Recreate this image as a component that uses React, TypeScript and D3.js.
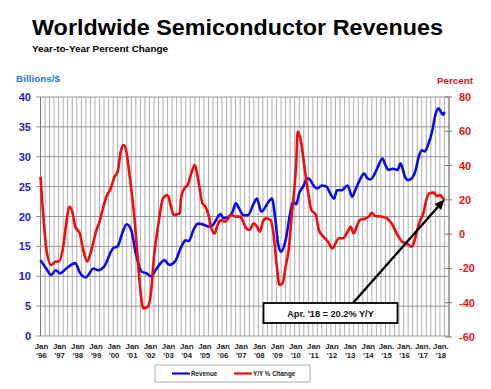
import React from "react";
import * as d3 from "d3";

const W = 491;
const H = 389;

// month index from Jan 1996 (0) for each reading
const revMonths = [0, 4, 7, 10, 13, 17, 23, 26, 30, 35, 38, 42, 48, 51, 54, 57, 60, 63, 67, 70, 73, 76, 82, 85, 89, 93, 96, 98, 101, 104, 108, 111, 114, 116, 119, 121, 124, 127, 129, 132, 134, 137, 141, 143, 146, 148, 150, 153, 155, 157, 159, 162, 165, 167, 169, 171, 174, 176, 178, 181, 183, 186, 189, 192, 194, 196, 199, 203, 206, 208, 211, 214, 216, 218, 221, 223, 226, 228, 230, 233, 236, 238, 239, 241, 243, 245, 248, 250, 252, 254, 256, 259, 261, 263, 264, 266, 267];
const revValues = [12.7, 11.2, 10.2, 11.0, 10.5, 11.3, 12.2, 10.6, 9.8, 11.3, 11.0, 11.6, 14.7, 15.0, 17.2, 18.7, 17.7, 13.8, 10.75, 10.5, 10.0, 11.0, 12.7, 11.9, 12.5, 14.9, 16.0, 15.9, 17.7, 18.8, 18.6, 18.3, 18.6, 19.4, 20.4, 19.7, 19.9, 20.8, 22.2, 21.0, 20.2, 20.2, 22.2, 23.0, 20.8, 21.3, 22.2, 23.0, 20.0, 15.5, 14.1, 16.0, 20.5, 22.5, 22.0, 23.9, 25.2, 26.4, 26.2, 25.0, 24.7, 25.2, 25.0, 23.6, 23.0, 24.4, 24.4, 25.2, 23.3, 24.4, 26.1, 27.2, 26.4, 26.2, 27.2, 28.3, 29.7, 28.6, 27.8, 28.0, 27.8, 28.9, 28.3, 26.6, 26.1, 26.3, 27.8, 30.0, 31.1, 30.9, 31.9, 34.4, 37.0, 38.1, 37.8, 37.0, 37.5];

const yoyMonths = [0, 4, 7, 10, 12, 15, 17, 19, 21, 23, 26, 28, 31, 33, 37, 39, 41, 44, 46, 49, 51, 53, 55, 57, 59, 62, 64, 66, 68, 71, 73, 75, 78, 81, 84, 86, 88, 90, 92, 93, 96, 97, 100, 102, 103, 105, 107, 109, 111, 113, 115, 117, 119, 122, 124, 126, 129, 132, 134, 136, 138, 141, 143, 145, 147, 149, 152, 154, 156, 158, 160, 162, 164, 166, 169, 170, 172, 175, 177, 179, 182, 184, 187, 190, 193, 195, 197, 200, 203, 205, 207, 209, 211, 215, 217, 219, 221, 226, 229, 232, 236, 239, 242, 245, 247, 249, 251, 253, 255, 257, 260, 262, 264, 266, 267];
const yoyValues = [33.5, -9.3, -18, -16, -16, -7.3, 6.3, 16, 13.1, 4.3, 0.4, -8.3, -16, -11.2, 2.4, 7.2, 14.1, 22.8, 25.8, 33.5, 36.4, 48.1, 52, 47.1, 33.5, 10.2, -11.2, -32.6, -43.3, -42.3, -34.5, -13.2, 6.3, 20.9, 22.8, 17, 11.2, 11.5, 12.1, 21.8, 27.7, 28.3, 36.4, 40.3, 37.4, 27.7, 18, 16, 11.2, 3.4, 0.4, 5.3, 8.2, 7.2, 9.2, 11.2, 10.2, 10.2, 7.2, 3.4, 2.4, 6.3, 4.4, 1.4, 7.2, 9.2, 8.2, 0.4, -17, -29.7, -28.7, -19, -9.3, 10.2, 41.3, 59.8, 54.9, 35.5, 23.8, 14.1, 11.2, 2.4, -1.5, -4.4, -8.3, -5.4, -2.4, -2.4, 1.4, 4.3, 0.4, 4.3, 8.2, 9.2, 10.2, 12.5, 10.6, 10.2, 9.2, 6.3, -0.5, -4.4, -5.4, -7.3, -4.4, 2.4, 8.2, 12.1, 19.9, 23.8, 24.2, 22.2, 22.8, 20.9, 20.2];

const yearLabels = ["'96", "'97", "'98", "'99", "'00", "'01", "'02", "'03", "'04", "'05", "'06", "'07", "'08", "'09", "'10", "'11", "'12", "'13", "'14", "'15", "'16", "'17", "'18"];
const monthLabels = ["Jan", "Jan", "Jan", "Jan", "Jan", "Jan", "Jan", "Jan", "Jan", "Jan", "Jan", "Jan", "Jan", "Jan", "Jan", "Jan", "Jan", "Jan", "Jan", "Jan.", "Jan.", "Jan.", "Jan."];
const leftTicks = [0, 5, 10, 15, 20, 25, 30, 35, 40];
const rightTicks = [-60, -40, -20, 0, 20, 40, 60, 80];

const annotationText = "Apr. '18 = 20.2% Y/Y";

const FONT = "'Liberation Sans', Arial, sans-serif";

export default function App() {
  const x = d3.scaleLinear().domain([0, 270]).range([40.5, 449]);
  const yL = d3.scaleLinear().domain([0, 40]).range([336, 97]);
  const yR = d3.scaleLinear().domain([-60, 80]).range([337, 97]);

  const revData = revMonths.map((m, i) => [m, revValues[i]] as [number, number]);
  const yoyData = yoyMonths.map((m, i) => [m, yoyValues[i]] as [number, number]);

  const revLine = d3
    .line<[number, number]>()
    .x((d) => x(d[0]))
    .y((d) => yL(d[1]))
    .curve(d3.curveMonotoneX);
  const yoyLine = d3
    .line<[number, number]>()
    .x((d) => x(d[0]))
    .y((d) => yR(d[1]))
    .curve(d3.curveMonotoneX);

  const vGrid = d3.range(0, 271, 3);

  const lastM = yoyMonths[yoyMonths.length - 1];
  const lastV = yoyValues[yoyValues.length - 1];
  const ax = x(lastM);
  const ay = yR(lastV);
  const sx = 353;
  const sy = 303;
  const ang = Math.atan2(ay - sy, ax - sx);
  const hl = 10;
  const hw = 4.5;
  const bx = ax - hl * Math.cos(ang);
  const by = ay - hl * Math.sin(ang);
  const head = [
    [ax, ay],
    [bx + hw * Math.sin(ang), by - hw * Math.cos(ang)],
    [bx - hw * Math.sin(ang), by + hw * Math.cos(ang)],
  ]
    .map((p) => p.join(","))
    .join(" ");

  return (
    <svg
      width={W}
      height={H}
      style={{ position: "absolute", left: 0, top: 0, background: "#fff" }}
      fontFamily={FONT}
    >
      <rect x={0} y={0} width={W} height={H} fill="#fff" />
      <text x={32} y={34.5} fontSize={21.5} fontWeight="bold" fill="#000" textLength={411} lengthAdjust="spacingAndGlyphs">
        Worldwide Semiconductor Revenues
      </text>
      <text x={32} y={51.5} fontSize={8.8} fontWeight="bold" fill="#000" textLength={136} lengthAdjust="spacingAndGlyphs">
        Year-to-Year Percent Change
      </text>
      <text x={16} y={81.5} fontSize={9.8} fontWeight="bold" fill="#2a78cf" textLength={44} lengthAdjust="spacingAndGlyphs">
        Billions/$
      </text>
      <text x={437} y={84} fontSize={9.8} fontWeight="bold" fill="#e8141c" textLength={36} lengthAdjust="spacingAndGlyphs">
        Percent
      </text>

      {/* vertical gridlines */}
      {vGrid.map((m) => (
        <line key={"v" + m} x1={x(m)} x2={x(m)} y1={97} y2={336} stroke="#9a9a9a" strokeWidth={0.8} />
      ))}
      {/* horizontal gridlines */}
      {leftTicks.map((t) => (
        <line key={"h" + t} x1={36} x2={449} y1={yL(t)} y2={yL(t)} stroke="#8a8a8a" strokeWidth={0.9} />
      ))}
      <line x1={40.5} x2={40.5} y1={97} y2={336} stroke="#777" strokeWidth={1} />
      <line x1={449} x2={449} y1={97} y2={337} stroke="#777" strokeWidth={1} />
      {rightTicks.map((t) => (
        <line key={"rt" + t} x1={445} x2={452} y1={yR(t)} y2={yR(t)} stroke="#777" strokeWidth={1} />
      ))}

      {/* left tick labels */}
      {leftTicks.map((t) => (
        <text key={"lt" + t} x={31} y={yL(t) + 4} fontSize={11} fontWeight="bold" fill="#2323d6" textAnchor="end">
          {t}
        </text>
      ))}
      {/* right tick labels */}
      {rightTicks.map((t) => (
        <text key={"rl" + t} x={459} y={yR(t) + 4} fontSize={11} fontWeight="bold" fill="#e8141c" textAnchor="start">
          {t}
        </text>
      ))}

      {/* x labels */}
      {yearLabels.map((yl, i) => (
        <g key={"x" + i}>
          <text x={x(i * 12) + 1} y={348.5} fontSize={7.8} fontWeight="bold" fill="#222" textAnchor="middle">
            {monthLabels[i]}
          </text>
          <text x={x(i * 12) + 1} y={358} fontSize={7.8} fontWeight="bold" fill="#222" textAnchor="middle">
            {yl}
          </text>
        </g>
      ))}

      {/* series */}
      <path d={revLine(revData) || ""} fill="none" stroke="#0a0aee" strokeWidth={2.6} strokeLinejoin="round" />
      <path d={yoyLine(yoyData) || ""} fill="none" stroke="#f40a0a" strokeWidth={2.6} strokeLinejoin="round" />

      {/* annotation */}
      <line x1={sx} y1={sy} x2={bx} y2={by} stroke="#000" strokeWidth={2.4} />
      <polygon points={head} fill="#000" />
      <rect x={263.5} y={303} width={134} height={20} fill="#fff" stroke="#000" strokeWidth={1.8} />
      <text x={330.5} y={317} fontSize={9.2} fontWeight="bold" fill="#111" textAnchor="middle">
        {annotationText}
      </text>

      {/* legend */}
      <rect x={155} y={365} width={155} height={17} fill="#fff" stroke="#999" strokeWidth={0.8} />
      <line x1={172} x2={190} y1={373.5} y2={373.5} stroke="#0a0aee" strokeWidth={2.2} />
      <text x={191} y={376} fontSize={6.3} fontWeight="bold" fill="#222">
        Revenue
      </text>
      <line x1={234} x2={252} y1={373.5} y2={373.5} stroke="#f40a0a" strokeWidth={2.2} />
      <text x={253} y={376} fontSize={6.3} fontWeight="bold" fill="#222">
        Y/Y % Change
      </text>
    </svg>
  );
}
